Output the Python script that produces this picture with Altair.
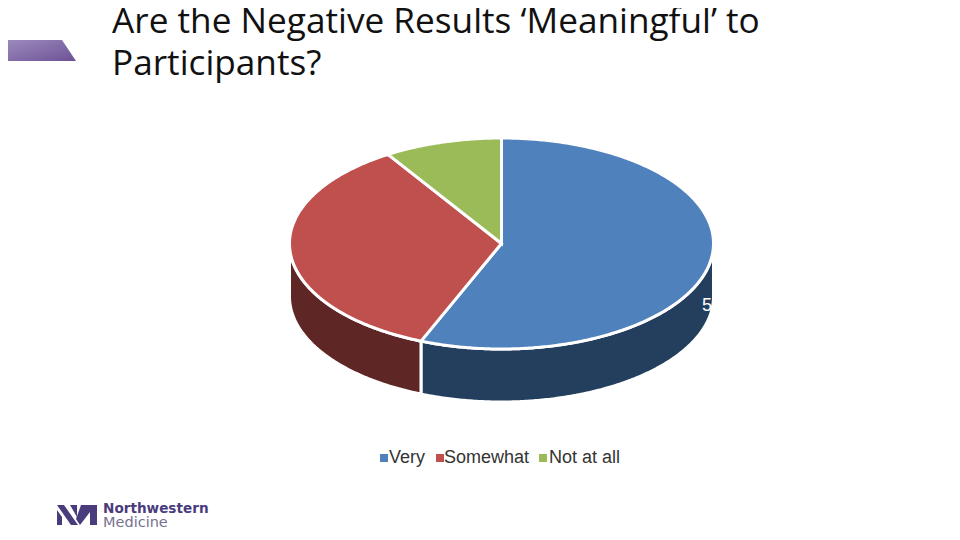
import numpy as np
import altair as alt

categories = ["Very", "Somewhat", "Not at all"]
values = [56.2, 34.8, 9.0]
colors = ["#4F81BD", "#C0504D", "#9BBB59"]
wall_colors = ["#243F5E", "#5E2725", "#2F3A1B"]
title_lines = ["Are the Negative Results ‘Meaningful’ to", "Participants?"]
data_label = "56%"

OX, OY = 8, 8
CX, CY, RX, RY, DEPTH = 501.5 - OX, 243.5 - OY, 212, 105.5, 53
LEGEND_SQUARES = [384, 440, 543]
LEGEND_TEXTS = [389, 444, 549]
LEGEND_Y = 458


def pt(a, dy=0.0):
    return [CX + RX * np.sin(a), CY - RY * np.cos(a) + dy]


def arc(a0, a1, dy=0.0):
    n = max(2, int(abs(a1 - a0) / 0.01))
    return [pt(a, dy) for a in np.linspace(a0, a1, n)]


def feature(ring, **props):
    ring = [[float(x), float(y)] for x, y in ring]
    ring.append(ring[0])
    return {"type": "Feature", "properties": props,
            "geometry": {"type": "Polygon", "coordinates": [ring]}}


edges = np.concatenate([[0], np.cumsum(values)]) / np.sum(values) * 2 * np.pi
tops, walls = [], []
for i, cat in enumerate(categories):
    a0, a1 = edges[i], edges[i + 1]
    tops.append(feature([[CX, CY]] + arc(a0, a1), category=cat))
    w0, w1 = max(a0, np.pi / 2), min(a1, 3 * np.pi / 2)
    if w1 > w0:
        walls.append(feature(arc(w0, w1) + arc(w1, w0, DEPTH), shade=wall_colors[i]))

proj = alt.Projection(type="identity", scale=1, translate=[0, 0])

wall_layer = alt.Chart(alt.Data(values=walls)).mark_geoshape(
    stroke="white", strokeWidth=3, strokeJoin="miter"
).encode(fill=alt.Fill("properties.shade:N", scale=None, legend=None))

top_layer = alt.Chart(alt.Data(values=tops)).mark_geoshape(
    stroke="white", strokeWidth=3, strokeJoin="miter"
).encode(
    fill=alt.Fill(
        "properties.category:N",
        scale=alt.Scale(domain=categories, range=colors),
        legend=None,
    )
)

legend_layers = []
for cat, col, sx, tx in zip(categories, colors, LEGEND_SQUARES, LEGEND_TEXTS):
    legend_layers.append(
        alt.Chart(alt.Data(values=[{"t": cat}])).mark_square(size=64, color=col, opacity=1).encode(
            x=alt.value(sx - OX), y=alt.value(LEGEND_Y - OY)
        )
    )
    legend_layers.append(
        alt.Chart(alt.Data(values=[{"t": cat}])).mark_text(
            font="Liberation Sans", fontSize=18, color="#333333", align="left", baseline="middle"
        ).encode(x=alt.value(tx - OX), y=alt.value(LEGEND_Y - OY), text="t:N")
    )

label_layer = alt.Chart(alt.Data(values=[{"t": data_label}])).mark_text(
    font="Liberation Sans", fontSize=18, color="white", align="left", baseline="middle"
).encode(x=alt.value(702 - OX), y=alt.value(306 - OY), text="t:N")

title_layers = [
    alt.Chart(alt.Data(values=[{"t": t}])).mark_text(
        font="Open Sans", fontSize=35.2, color="#111111", align="left", baseline="alphabetic"
    ).encode(x=alt.value(112 - OX), y=alt.value(y - OY), text="t:N")
    for t, y in zip(title_lines, [33, 75])
]

band = alt.Chart(alt.Data(values=[feature(
    [[0, 40 - OY], [62 - OX, 40 - OY], [76 - OX, 61 - OY], [0, 61 - OY]])])).mark_geoshape(
    fill=alt.Gradient(
        gradient="linear", x1=0, y1=0, x2=1, y2=1,
        stops=[alt.GradientStop(color="#9C8ABB", offset=0),
               alt.GradientStop(color="#6C5297", offset=1)],
    ),
    strokeWidth=0,
)

logo_parts = [
    [[57, 510], [62, 517], [62, 525], [57, 525]],
    [[57, 505], [64, 505], [78, 525], [71, 525]],
    [[70, 505], [77, 505], [77, 517]],
    [[81, 505], [90, 505], [90, 512], [80, 525], [76, 519]],
    [[90, 505], [97, 505], [97, 525], [90, 525]],
]
logo = alt.Chart(alt.Data(values=[
    feature([[x - OX, y - OY] for x, y in part]) for part in logo_parts
])).mark_geoshape(fill="#4A3C7C", strokeWidth=0)
logo_top = alt.Chart(alt.Data(values=[{"t": "Northwestern"}])).mark_text(
    font="DejaVu Sans", fontWeight="bold", fontSize=13.6, color="#4A3C7C", align="left", baseline="alphabetic"
).encode(x=alt.value(103 - OX), y=alt.value(513 - OY), text="t:N")
logo_bottom = alt.Chart(alt.Data(values=[{"t": "Medicine"}])).mark_text(
    font="DejaVu Sans", fontSize=14.5, color="#77728F", align="left", baseline="alphabetic"
).encode(x=alt.value(103 - OX), y=alt.value(526.5 - OY), text="t:N")

chart = alt.layer(
    band, logo, *title_layers, wall_layer, top_layer, label_layer, *legend_layers, logo_top, logo_bottom
).resolve_scale(fill="independent").properties(
    width=944, height=520, padding=0, projection=proj,
    autosize=alt.AutoSizeParams(type="none"),
).configure_view(stroke=None)

chart.save("out.html", embed_options={"renderer": "svg", "actions": False})
